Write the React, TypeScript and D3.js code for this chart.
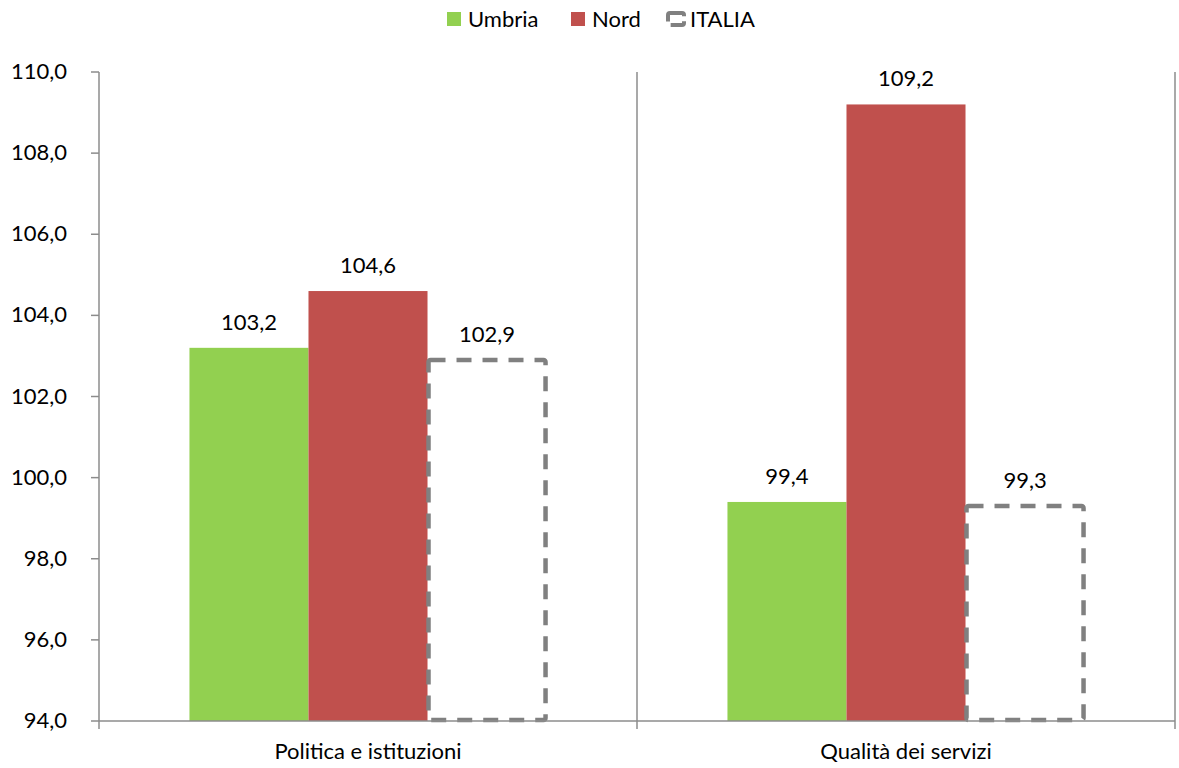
import React from "react";
import * as d3 from "d3";

const categories = ["Politica e istituzioni", "Qualità dei servizi"];
const seriesNames = ["Umbria", "Nord", "ITALIA"];
const umbria = [103.2, 99.4];
const nord = [104.6, 109.2];
const italia = [102.9, 99.3];
const yTicks = [94, 96, 98, 100, 102, 104, 106, 108, 110];

const seriesValues = [umbria, nord, italia];
const colors = ["#92D050", "#C0504D", "#FFFFFF"];

const W = 1179;
const H = 768;
const fontFamily = "Lato, 'Open Sans', sans-serif";
const fontSize = 22;
const axisColor = "#8C8C8C";

const fmt = (v: number) => v.toFixed(1).replace(".", ",");

const App = () => {
  const left = 99;
  const right = 1175;
  const top = 72;
  const bottom = 721;

  const x = d3.scaleBand<string>().domain(categories).range([left, right]);
  const inner = d3
    .scaleBand<string>()
    .domain(seriesNames)
    .range([0, x.bandwidth()])
    .paddingOuter(0.76);
  const y = d3.scaleLinear().domain([94, 110]).range([bottom, top]);

  const legendItems = [
    { name: "Umbria", x: 447, tx: 468 },
    { name: "Nord", x: 571, tx: 592 },
    { name: "ITALIA", x: 668, tx: 690 },
  ];

  return (
    <svg width={W} height={H} style={{ display: "block", position: "absolute", left: 0, top: 0 }}>
      <rect width={W} height={H} fill="#fff" />

      {/* legend */}
      {legendItems.map((d, i) => (
        <g key={d.name}>
          {i < 2 ? (
            <rect x={d.x} y={12} width={14} height={14} fill={colors[i]} />
          ) : (
            <rect
              x={d.x}
              y={13}
              width={16}
              height={12}
              rx={2}
              fill="#fff"
              stroke="#808080"
              strokeWidth={4}
              strokeDasharray="16 5"
            />
          )}
          <text x={d.tx} y={27} fontFamily={fontFamily} fontSize={fontSize} fill="#000">
            {d.name}
          </text>
        </g>
      ))}

      {/* category separator gridlines */}
      {categories.map((c) => (
        <line
          key={c}
          x1={x(c)! + x.bandwidth()}
          x2={x(c)! + x.bandwidth()}
          y1={top}
          y2={bottom + 8}
          stroke={axisColor}
          strokeWidth={1.5}
        />
      ))}

      {/* y axis */}
      <line x1={left} x2={left} y1={top} y2={bottom + 8} stroke={axisColor} strokeWidth={1.5} />
      {yTicks.map((t) => (
        <g key={t}>
          <line x1={left - 8} x2={left} y1={y(t)} y2={y(t)} stroke={axisColor} strokeWidth={1.5} />
          <text
            x={67}
            y={y(t) + 7}
            textAnchor="end"
            fontFamily={fontFamily}
            fontSize={fontSize}
            fill="#000"
          >
            {fmt(t)}
          </text>
        </g>
      ))}

      {/* bars */}
      {categories.map((c, ci) => (
        <g key={c}>
          {seriesNames.map((s, si) => {
            const v = seriesValues[si][ci];
            const bx = x(c)! + inner(s)!;
            const bw = inner.bandwidth();
            const by = y(v);
            const bh = y(94) - by;
            return (
              <g key={s}>
                {si < 2 ? (
                  <rect x={bx} y={by} width={bw} height={bh} fill={colors[si]} />
                ) : (
                  <rect
                    x={bx + 1}
                    y={by}
                    width={bw - 2}
                    height={bh - 1}
                    rx={2}
                    fill="#fff"
                    stroke="#808080"
                    strokeWidth={4.5}
                    strokeDasharray="15 11"
                  />
                )}
                <text
                  x={bx + bw / 2}
                  y={by - 18}
                  textAnchor="middle"
                  fontFamily={fontFamily}
                  fontSize={fontSize}
                  fill="#000"
                >
                  {fmt(v)}
                </text>
              </g>
            );
          })}
          <text
            x={x(c)! + x.bandwidth() / 2}
            y={759}
            textAnchor="middle"
            fontFamily={fontFamily}
            fontSize={fontSize}
            fill="#000"
          >
            {c}
          </text>
        </g>
      ))}

      {/* x axis */}
      <line x1={left} x2={right} y1={bottom} y2={bottom} stroke={axisColor} strokeWidth={1.5} />
    </svg>
  );
};

export default App;
